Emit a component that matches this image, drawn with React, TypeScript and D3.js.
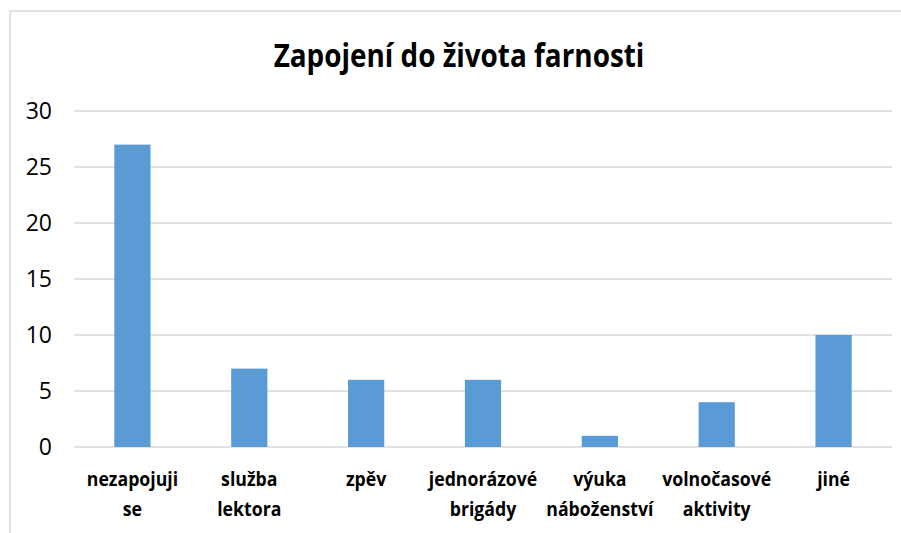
import React from "react";
import * as d3 from "d3";

const title = "Zapojení do života farnosti";
const categories: string[][] = [
  ["nezapojuji", "se"],
  ["služba", "lektora"],
  ["zpěv"],
  ["jednorázové", "brigády"],
  ["výuka", "náboženství"],
  ["volnočasové", "aktivity"],
  ["jiné"],
];
const values = [27, 7, 6, 6, 1, 4, 10];
const yTicks = [0, 5, 10, 15, 20, 25, 30];

const W = 901;
const H = 533;

export default function App() {
  const keys = categories.map((c) => c.join(" "));
  const x = d3.scaleBand<string>().domain(keys).range([74, 892]).paddingInner(0.69).paddingOuter(0.345);
  const y = d3.scaleLinear().domain([0, 30]).range([447, 111]);
  const font = "'Open Sans', 'DejaVu Sans', sans-serif";
  return (
    <svg width={W} height={H} style={{ position: "absolute", left: 0, top: 0 }} xmlns="http://www.w3.org/2000/svg">
      <rect x={0} y={0} width={W} height={H} fill="#fff" />
      <rect x={10} y={11} width={W + 20} height={H + 20} fill="none" stroke="#d9d9d9" strokeWidth={1.5} />
      <text
        transform={`translate(${459},${67}) scale(0.845,1)`}
        textAnchor="middle"
        fontFamily={font}
        fontWeight="bold"
        fontSize={33}
        fill="#000"
      >
        {title}
      </text>
      {yTicks.map((t) => (
        <g key={t}>
          <line x1={74} x2={892} y1={y(t)} y2={y(t)} stroke="#d9d9d9" strokeWidth={1.5} />
          <text x={52} y={y(t)} dy="0.35em" textAnchor="end" fontFamily={font} fontSize={23} fill="#000">
            {t}
          </text>
        </g>
      ))}
      {values.map((v, i) => (
        <rect key={i} x={x(keys[i])} y={y(v)} width={x.bandwidth()} height={y(0) - y(v)} fill="#5b9bd5" />
      ))}
      {categories.map((lines, i) => {
        const cx = (x(keys[i]) as number) + x.bandwidth() / 2;
        return (
          <g key={i}>
            {lines.map((ln, j) => (
              <text
                key={j}
                transform={`translate(${cx},${486 + j * 30}) scale(0.885,1)`}
                textAnchor="middle"
                fontFamily={font}
                fontWeight="bold"
                fontSize={20}
                fill="#000"
              >
                {ln}
              </text>
            ))}
          </g>
        );
      })}
    </svg>
  );
}
